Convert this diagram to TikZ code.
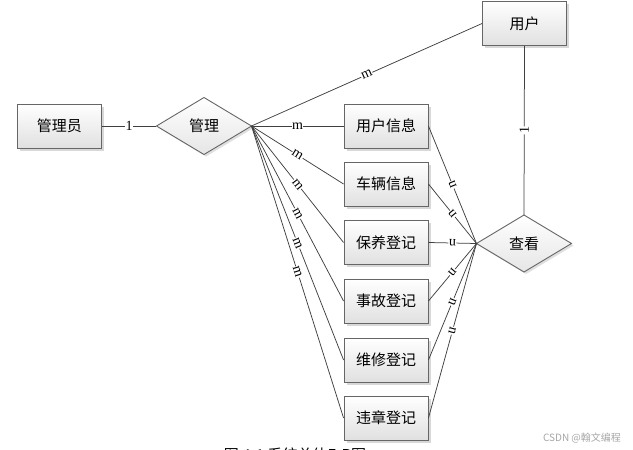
\documentclass[tikz,border=0pt]{standalone}
\usepackage{fontspec}
\setmainfont{Liberation Serif}
\newfontfamily\cjk{Noto Sans CJK SC}
\usetikzlibrary{shapes.geometric,shadows}
\begin{document}
\begin{tikzpicture}[x=1pt,y=-1pt,
  entity/.style={draw=black!60,line width=0.9pt,minimum width=84,minimum height=44,inner sep=0,
    top color=white,bottom color=black!12,
    drop shadow={shadow xshift=2.5pt,shadow yshift=-2.5pt,fill=black!30,opacity=0.5},
    font=\cjk\fontsize{15}{17}\selectfont},
  relation/.style={diamond,draw=black!60,line width=0.9pt,minimum width=95,minimum height=57,inner sep=0,outer sep=0,
    top color=white,bottom color=black!10,
    drop shadow={shadow xshift=2pt,shadow yshift=-2pt,fill=black!25,opacity=0.5},
    font=\cjk\fontsize{15}{17}\selectfont},
  link/.style={draw=black!75,line width=0.75pt},
  card/.style={fill=white,inner sep=0.5pt,font=\fontsize{14}{14}\selectfont,sloped,allow upside down}]
\useasboundingbox (0,0) rectangle (633,450);
\node[entity] (admin) at (59.5,126) {管理员};
\node[relation] (manage) at (204,126) {管理};
\node[entity] (user) at (524.5,23.5) {用户};
\node[entity] (uinfo) at (386,126) {用户信息};
\node[entity] (car) at (386,184) {车辆信息};
\node[entity] (upkeep) at (386,242.5) {保养登记};
\node[entity] (accident) at (386,301) {事故登记};
\node[entity] (repair) at (386,360) {维修登记};
\node[entity] (violation) at (386,418) {违章登记};
\node[relation] (view) at (524,243.5) {查看};
% connectors
\draw[link] (admin) -- node[card]{1} (manage);
\draw[link] (manage.east) -- node[card]{m} (user.west);
\foreach \b in {uinfo,car,upkeep,accident,repair,violation}
  \draw[link] (manage.east) -- node[card]{m} (\b.west);
\foreach \b in {uinfo,car,upkeep,accident,repair,violation}
  \draw[link] (view.west) -- node[card]{n} (\b.east);
\draw[link] (view.north) -- node[card]{1} (user.south);
% caption, cut by the page edge, and watermark
\node[anchor=north,inner sep=0,font=\cjk\fontsize{15}{17}\selectfont] (caption) at (295,448) {图 4-1 系统总体E-R图};
\node[font=\cjk\fontsize{10}{11}\selectfont,text=black!35] (mark) at (582,438) {CSDN @翰文编程};
\end{tikzpicture}
\end{document}
